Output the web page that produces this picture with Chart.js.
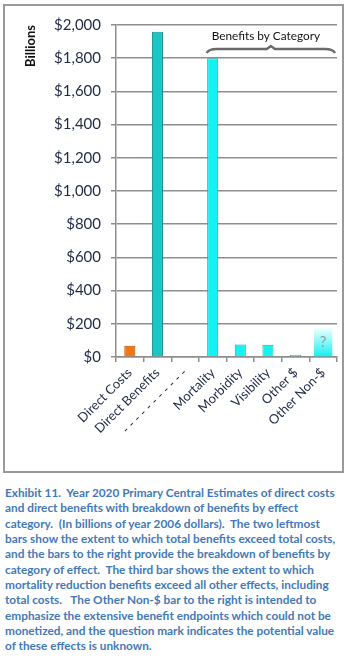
<!DOCTYPE html>
<html>
<head>
<meta charset="utf-8">
<script src="https://cdn.jsdelivr.net/npm/chart.js@4.4.1/dist/chart.umd.min.js"></script>
<style>
    body { margin: 0; background: #fff; width: 350px; height: 658px; position: relative; overflow: hidden; }
    #frame { position: absolute; left: 3px; top: 4px; width: 341px; height: 469px; box-sizing: border-box; border: 2px solid #999; }
    #chartBox { position: absolute; left: 0; top: 0; width: 350px; height: 475px; }
    #caption {
        position: absolute; left: 5px; top: 485px; margin: 0;
        font-family: Lato, "Open Sans", sans-serif; font-weight: bold; font-size: 11.8px;
        line-height: 15.35px; color: #4379b8; white-space: pre;
    }
</style>
</head>
<body>
<div id="frame"></div>
<div id="chartBox"><canvas id="chart" width="350" height="475"></canvas></div>
<p id="caption">Exhibit 11.  Year 2020 Primary Central Estimates of direct costs
and direct benefits with breakdown of benefits by effect
category.  (In billions of year 2006 dollars).  The two leftmost
bars show the extent to which total benefits exceed total costs,
and the bars to the right provide the breakdown of benefits by
category of effect.  The third bar shows the extent to which
mortality reduction benefits exceed all other effects, including
total costs.   The Other Non-$ bar to the right is intended to
emphasize the extensive benefit endpoints which could not be
monetized, and the question mark indicates the potential value
of these effects is unknown.</p>
<script>
const categories = ["Direct Costs", "Direct Benefits", "- - - - - - - - - - -", "Mortality", "Morbidity", "Visibility", "Other $", "Other Non-$"];
const monetized = [68, 1960, null, 1800, 76, 74, 14, null];
const nonMonetized = [null, null, null, null, null, null, null, 175];
const fillColors = ["#f0780f", "#1dc6c6", "#00ffff", "#14f2f2", "#14f2f2", "#14f2f2", "#14f2f2", "#14f2f2"];
const edgeColors = ["#b84c00", "#138b8b", "#2aa8a8", "#2aa8a8", "#2aa8a8", "#2aa8a8", "#2aa8a8", "#2aa8a8"];
const yMax = 2000;
const yStep = 200;
const groupTitle = "Benefits by Category";
const unknownMark = "?";

const FONT = "Lato, 'Open Sans', sans-serif";
const INK = "#1f2a44";

const annotations = {
    id: "annotations",
    afterDatasetsDraw(chart) {
        const ctx = chart.ctx;
        const x = chart.scales.x;
        const area = chart.chartArea;

        // question mark inside the non-monetized bar
        const bar = chart.getDatasetMeta(1).data[7];
        if (bar) {
            ctx.save();
            ctx.fillStyle = "#8d9c9c";
            ctx.font = "15px " + FONT;
            ctx.textAlign = "center";
            ctx.textBaseline = "middle";
            ctx.fillText(unknownMark, bar.x, (bar.y + bar.base) / 2);
            ctx.restore();
        }

        // brace over the benefit categories
        const x0 = x.getPixelForValue(3) - 6;
        const x1 = area.right - 2;
        const mid = (x0 + x1) / 2;
        const yb = 49;
        ctx.save();
        ctx.strokeStyle = "#6a6a6a";
        ctx.lineWidth = 2.5;
        ctx.beginPath();
        ctx.moveTo(x0, yb + 4);
        ctx.quadraticCurveTo(x0 + 2, yb, x0 + 10, yb);
        ctx.lineTo(mid - 4, yb);
        ctx.lineTo(mid, yb - 3);
        ctx.lineTo(mid + 4, yb);
        ctx.lineTo(x1 - 10, yb);
        ctx.quadraticCurveTo(x1 - 2, yb, x1, yb + 4);
        ctx.stroke();

        ctx.fillStyle = "#111";
        ctx.font = "11.8px " + FONT;
        ctx.textAlign = "center";
        ctx.textBaseline = "middle";
        ctx.fillText(groupTitle, mid - 5, 36);
        ctx.restore();
    }
};

new Chart(document.getElementById("chart"), {
    type: "bar",
    data: {
        labels: categories,
        datasets: [{
            data: monetized,
            backgroundColor: fillColors,
            borderColor: edgeColors,
            borderWidth: 1,
            barPercentage: 0.4,
            categoryPercentage: 1,
            grouped: false
        }, {
            data: nonMonetized,
            backgroundColor: (c) => {
                const area = c.chart.chartArea;
                if (!area) return "#7ff8f8";
                const y = c.chart.scales.y;
                const g = c.chart.ctx.createLinearGradient(0, y.getPixelForValue(0), 0, y.getPixelForValue(nonMonetized[7]));
                g.addColorStop(0, "#10f0f0");
                g.addColorStop(1, "#f2ffff");
                return g;
            },
            borderWidth: 0,
            barPercentage: 0.66,
            categoryPercentage: 1,
            grouped: false
        }]
    },
    options: {
        responsive: false,
        animation: false,
        layout: { padding: { top: 25, right: 13, bottom: 0, left: 0 } },
        plugins: { legend: { display: false }, tooltip: { enabled: false } },
        scales: {
            y: {
                min: 0,
                max: yMax,
                ticks: {
                    stepSize: yStep,
                    color: INK,
                    padding: 10,
                    font: { family: FONT, size: 15 },
                    callback: (v) => "$" + v.toLocaleString("en-US")
                },
                grid: { color: "#8e8e8e", lineWidth: 1.5, tickLength: 5 },
                border: { color: "#8e8e8e", width: 1.5 },
                title: {
                    display: true,
                    text: "Billions",
                    align: "end",
                    color: "#111",
                    font: { family: FONT, size: 13, weight: "bold" },
                    padding: { top: 23, bottom: 0 }
                },
                afterFit: (s) => { s.width = 116; }
            },
            x: {
                ticks: {
                    color: INK,
                    minRotation: 45,
                    maxRotation: 45,
                    padding: 3,
                    font: { family: FONT, size: 13 }
                },
                grid: { offset: true, drawOnChartArea: false, color: "#8e8e8e", lineWidth: 1.5, tickLength: 5 },
                border: { color: "#8e8e8e", width: 1.5 },
                afterFit: (s) => { s.height = 118; }
            }
        }
    },
    plugins: [annotations]
});
</script>
</body>
</html>
